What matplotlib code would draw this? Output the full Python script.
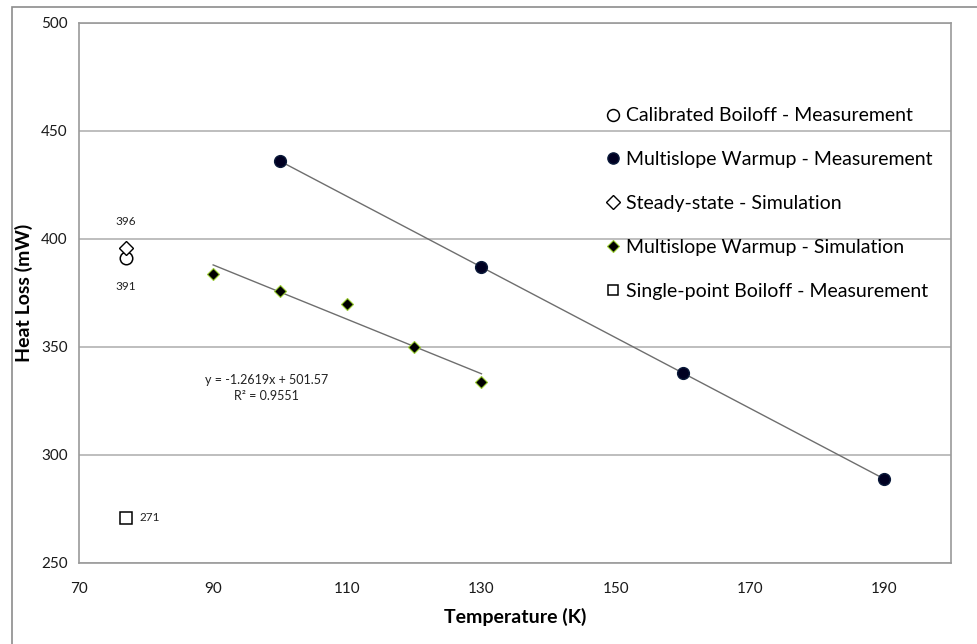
#!/usr/bin/env python3
import matplotlib
matplotlib.use('Agg')
import matplotlib.pyplot as plt
from matplotlib.patches import Rectangle
import numpy as np

plt.rcParams['font.family'] = ['Lato', 'DejaVu Sans']

# single points at 77 K
calib_x, calib_y = [77], [391]
steady_x, steady_y = [77], [396]
single_x, single_y = [77], [271]

# multislope warmup
meas_x = [100, 130, 160, 190]
meas_y = [436, 387, 338, 289]
sim_x = [90, 100, 110, 120, 130]
sim_y = [384, 376, 370, 350, 334]

fig = plt.figure(figsize=(9.78, 6.44), dpi=100)
# outer chart border (top and left only are visible)
fig.patches.append(Rectangle((12/978, -0.1), 1.2, 1 - 7/644 + 0.1, transform=fig.transFigure,
                             fill=False, edgecolor='#8c8c8c', linewidth=1.2))
ax = fig.add_axes([79/978, 1 - 563/644, (951-79)/978, (563-23)/644])

grid_c = '#b3b3b3'
for s in ax.spines.values():
    s.set_color('#9a9a9a')
    s.set_linewidth(1.2)
ax.set_xlim(70, 200)
ax.set_ylim(250, 500)
ax.set_xticks(np.arange(70, 200, 20))
ax.set_yticks(np.arange(250, 501, 50))
ax.yaxis.grid(True, color=grid_c, linewidth=1.2)
ax.set_axisbelow(True)
ax.tick_params(length=0, labelsize=11, colors='#1a1a1a')
ax.tick_params(axis='x', pad=14)
ax.tick_params(axis='y', pad=8)

# trend lines
mfit = np.polyfit(meas_x, meas_y, 1)
xm = np.array([min(meas_x), max(meas_x)])
ax.plot(xm, np.polyval(mfit, xm), color='#6e6e6e', lw=1.0, zorder=2)
sfit = np.polyfit(sim_x, sim_y, 1)
xs = np.array([min(sim_x), max(sim_x)])
ax.plot(xs, np.polyval(sfit, xs), color='#6e6e6e', lw=1.0, zorder=2)

ax.plot(calib_x, calib_y, 'o', ms=9, mfc='white', mec='black', mew=1.1,
        label='Calibrated Boiloff - Measurement', zorder=3)
ax.plot(meas_x, meas_y, 'o', ms=8.5, mfc='#000022', mec='#0a1a3a', mew=1.0,
        label='Multislope Warmup - Measurement', zorder=3)
ax.plot(steady_x, steady_y, 'D', ms=7, mfc='white', mec='black', mew=1.0,
        label='Steady-state - Simulation', zorder=3)
ax.plot(sim_x, sim_y, 'D', ms=6.5, mfc='black', mec='#9acd32', mew=0.8,
        label='Multislope Warmup - Simulation', zorder=3)
ax.plot(single_x, single_y, 's', ms=8, mfc='white', mec='black', mew=1.1,
        label='Single-point Boiloff - Measurement', zorder=3)

ax.text(77, 408, '396', fontsize=8.5, ha='center', va='center', color='#222222')
ax.text(77, 378, '391', fontsize=8.5, ha='center', va='center', color='#222222')
ax.text(79, 271, '271', fontsize=8.5, ha='left', va='center', color='#222222')
ax.text(98, 334.5, 'y = -1.2619x + 501.57', fontsize=9, ha='center', va='center', color='#222222')
ax.text(98, 327.5, 'R² = 0.9551', fontsize=9, ha='center', va='center', color='#222222')

ax.set_xlabel('Temperature (K)', fontsize=14, fontweight='bold', labelpad=8)
ax.set_ylabel('Heat Loss (mW)', fontsize=14, fontweight='bold', labelpad=6)

leg = ax.legend(loc='upper left', bbox_to_anchor=(0.584, 0.876), frameon=False,
                fontsize=14, labelspacing=1.38, handlelength=0.7, handletextpad=0.35,
                markerscale=0.95)

fig.savefig('out.png', dpi=100)
